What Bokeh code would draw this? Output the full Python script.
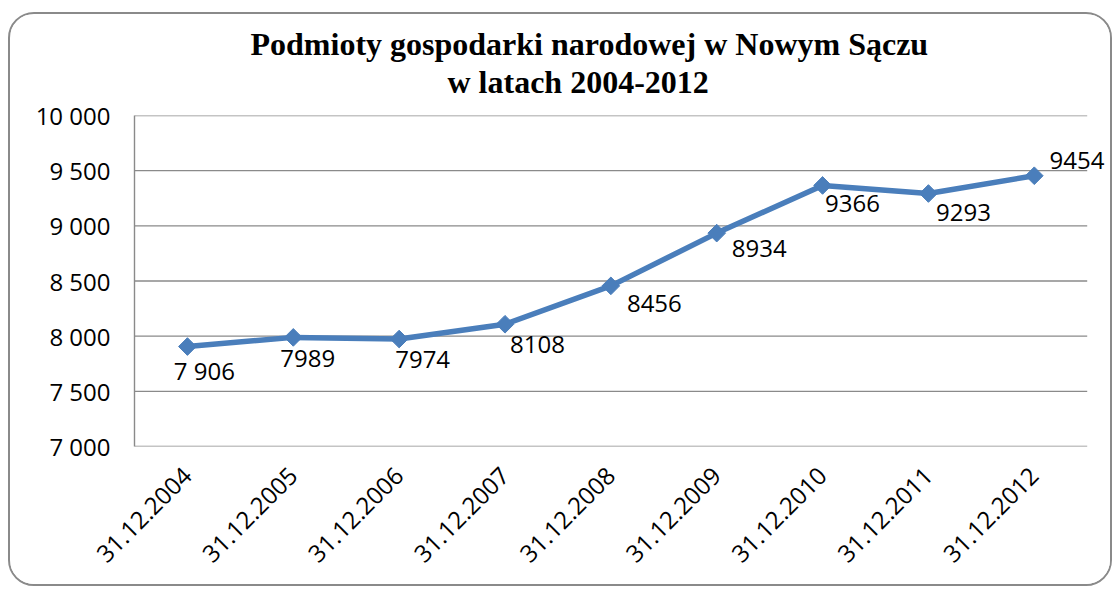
import numpy as np
from bokeh.plotting import figure
from bokeh.models import (ColumnDataSource, Range1d, FixedTicker, LabelSet, Title)
from bokeh.core.properties import value
from bokeh.embed import file_html
from bokeh.resources import INLINE

# ---------------- data ----------------
dates = ["31.12.2004", "31.12.2005", "31.12.2006", "31.12.2007", "31.12.2008",
         "31.12.2009", "31.12.2010", "31.12.2011", "31.12.2012"]
values = [7906, 7989, 7974, 8108, 8456, 8934, 9366, 9293, 9454]
value_labels = ["7 906", "7989", "7974", "8108", "8456", "8934", "9366", "9293", "9454"]
y_ticks = [7000, 7500, 8000, 8500, 9000, 9500, 10000]
y_tick_labels = ["7 000", "7 500", "8 000", "8 500", "9 000", "9 500", "10 000"]
title_lines = ["Podmioty gospodarki narodowej w Nowym Sączu", "w latach 2004-2012"]

# ---------------- style / placement ----------------
label_dx = [17, 14.5, 23.5, 32.5, 43.5, 42.5, 30, 35, 42.7]   # px, right
label_dy = [33.5, 30, 29, 29, 26, 24, 27, 27, -7]           # px, down (baseline)
title_offsets = [116, 313]                                   # px from plot-area left
title_standoffs = [-32, 32]

BLUE = "#4A7EBB"
GRID = "#8a8a8a"
FONT = "Open Sans"
TICK_SIZE = "24px"

W, H = 1104, 574
n = len(dates)
xs = [i + 0.5 for i in range(n)]          # category centres on the x scale

src = ColumnDataSource(dict(
    x=xs, y=values, txt=value_labels,
    dx=label_dx, dy=[-d for d in label_dy],
))

p = figure(
    width=W, height=H,
    x_range=Range1d(0, n + 0.22),
    y_range=Range1d(y_ticks[0], y_ticks[-1]),
    output_backend="svg", toolbar_location=None,
    min_border_left=124, min_border_top=101,
    min_border_right=4, min_border_bottom=142,
    background_fill_color="white", border_fill_color="white",
)
p.styles = {"border": "2px solid #8a8a8a", "border-radius": "26px",
            "margin-left": "8px", "margin-top": "12px", "overflow": "hidden"}
p.outline_line_color = None

# grid lines drawn across the category span only
p.xgrid.grid_line_color = None
p.ygrid.grid_line_color = None
p.segment(x0=0, x1=n, y0=y_ticks, y1=y_ticks, line_color=GRID, line_width=1.4)

# axes
p.xaxis.ticker = FixedTicker(ticks=xs)
p.xaxis.major_label_overrides = {x: d for x, d in zip(xs, dates)}
p.yaxis.ticker = FixedTicker(ticks=y_ticks)
p.yaxis.major_label_overrides = {t: l for t, l in zip(y_ticks, y_tick_labels)}
for ax in (p.xaxis, p.yaxis):
    ax.major_tick_line_color = None
    ax.minor_tick_line_color = None
    ax.major_tick_out = 0
    ax.major_tick_in = 0
    ax.major_label_text_font = FONT
    ax.major_label_text_font_size = TICK_SIZE
    ax.major_label_text_color = "black"
p.xaxis.axis_line_color = None
p.yaxis.axis_line_color = GRID
p.yaxis.axis_line_width = 1.4
p.yaxis.major_label_standoff = 24
p.xaxis.major_label_orientation = np.pi / 4
p.xaxis.major_label_standoff = 25

# series
p.line("x", "y", source=src, line_color=BLUE, line_width=5.5)
p.scatter("x", "y", source=src, marker="square", angle=np.pi / 4, size=12.5,
          fill_color=BLUE, line_color=BLUE)

labels = LabelSet(x="x", y="y", text="txt", source=src,
                  x_offset="dx", y_offset="dy",
                  text_align="center", text_baseline="alphabetic",
                  text_font=value(FONT), text_font_size=TICK_SIZE, text_color="black")
p.add_layout(labels)

# title: second line first (closest to plot), then first line above it
for line, off, so in reversed(list(zip(title_lines, title_offsets, title_standoffs))):
    p.add_layout(Title(text=line, align="left", offset=off, standoff=so,
                       text_font="Liberation Serif", text_font_style="bold",
                       text_font_size="32px", text_color="black"), "above")

open("out.html", "w").write(file_html(p, INLINE))
